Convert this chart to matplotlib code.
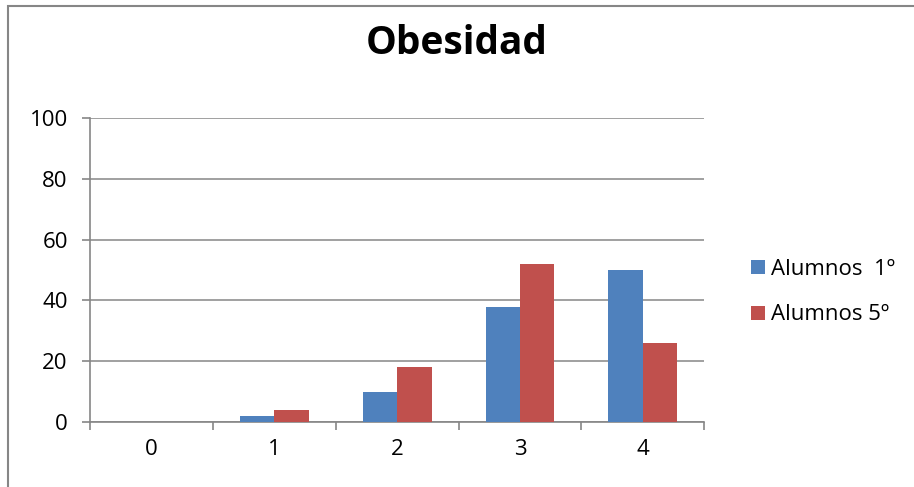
import numpy as np
import matplotlib.pyplot as plt
from matplotlib.patches import Rectangle

plt.rcParams['font.family'] = ['Open Sans', 'DejaVu Sans']

categories = ['0', '1', '2', '3', '4']
alumnos_1 = [0, 2, 10, 38, 50]
alumnos_5 = [0, 4, 18, 52, 26]

fig = plt.figure(figsize=(9.14, 4.87), dpi=100)
ax = fig.add_axes([0.0985, 0.1335, 0.672, 0.624])

x = np.arange(len(categories))
w = 0.28
ax.bar(x - w / 2, alumnos_1, w, color='#4f81bd', label='Alumnos  1º', zorder=3)
ax.bar(x + w / 2, alumnos_5, w, color='#c0504d', label='Alumnos 5º', zorder=3)

ax.set_xlim(-0.5, 4.5)
ax.set_ylim(0, 100)
ax.set_yticks(range(0, 101, 20))
ax.set_xticks(x)
ax.set_xticklabels(categories)
ax.set_xticks(np.arange(-0.5, 4.6, 1), minor=True)
ax.tick_params(axis='x', which='major', length=0, pad=12, labelsize=16)
ax.tick_params(axis='x', which='minor', length=6, width=1.2, color='#868686', direction='out')
ax.tick_params(axis='y', length=6, width=1.2, color='#868686', pad=10, labelsize=16)
ax.grid(axis='y', color='#868686', linewidth=1.1, zorder=0)
for s in ['top', 'right']:
    ax.spines[s].set_visible(False)
for s in ['left', 'bottom']:
    ax.spines[s].set_color('#868686')
    ax.spines[s].set_linewidth(1.2)

fig.text(0.5, 0.91, 'Obesidad', ha='center', va='center', fontsize=28, fontweight='bold')

fig.legend(loc='center left', bbox_to_anchor=(0.8, 0.40), frameon=False, fontsize=16,
           handlelength=0.6, handleheight=0.6, handletextpad=0.3, labelspacing=1.1)

fig.patches.append(Rectangle((8 / 914, -0.1), 1.2, 1.1 - 6 / 487, transform=fig.transFigure,
                             fill=False, edgecolor='#868686', linewidth=1.5))

fig.savefig('out.png')
